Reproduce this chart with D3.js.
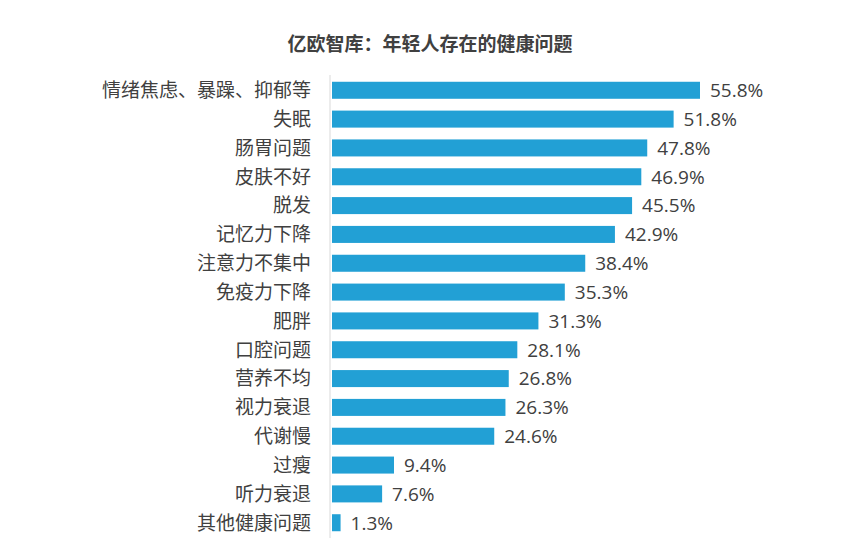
<!DOCTYPE html>
<html lang="zh-CN"><head><meta charset="utf-8">
<script src="https://cdn.jsdelivr.net/npm/d3@7"></script>
<style>
html,body{margin:0;padding:0;background:#fff;}
</style></head>
<body><svg id="chart" width="861" height="560"></svg>
<script>
const title = "亿欧智库：年轻人存在的健康问题";
const categories = ["情绪焦虑、暴躁、抑郁等","失眠","肠胃问题","皮肤不好","脱发","记忆力下降","注意力不集中","免疫力下降","肥胖","口腔问题","营养不均","视力衰退","代谢慢","过瘦","听力衰退","其他健康问题"];
const values = [55.8,51.8,47.8,46.9,45.5,42.9,38.4,35.3,31.3,28.1,26.8,26.3,24.6,9.4,7.6,1.3];

const svg = d3.select("#chart");
const x = d3.scaleLinear().domain([0, 55.8]).range([332, 700]);
const y = d3.scaleBand().domain(categories).range([76, 537]).paddingInner(0.41).paddingOuter(0.2);

svg.append("text").attr("x", 430).attr("y", 51).attr("text-anchor", "middle")
  .attr("font-family", "Noto Sans CJK SC").attr("font-weight", "bold").attr("font-size", 19)
  .attr("fill", "#404040").text(title);

svg.append("line").attr("x1", 330).attr("x2", 330).attr("y1", 75).attr("y2", 538)
  .attr("stroke", "#d9d9d9").attr("stroke-width", 1);

svg.selectAll("rect.bar").data(values).join("rect").attr("class","bar")
  .attr("x", x(0)).attr("y", (d,i)=>y(categories[i]))
  .attr("width", d=>x(d)-x(0)).attr("height", y.bandwidth())
  .attr("fill", "#22a0d5");

svg.selectAll("text.cat").data(categories).join("text").attr("class","cat")
  .attr("x", 311).attr("y", d=>y(d)+y.bandwidth()/2).attr("dy","0.36em")
  .attr("text-anchor","end").attr("font-family","Noto Sans CJK SC").attr("font-size",19)
  .attr("fill","#404040").text(d=>d);

svg.selectAll("text.val").data(values).join("text").attr("class","val")
  .attr("x", d=>x(d)+10).attr("y", (d,i)=>y(categories[i])+y.bandwidth()/2).attr("dy","0.36em")
  .attr("font-family","Open Sans").attr("font-size",19)
  .attr("fill","#404040").text(d=>d.toFixed(1)+"%");
</script></body></html>
